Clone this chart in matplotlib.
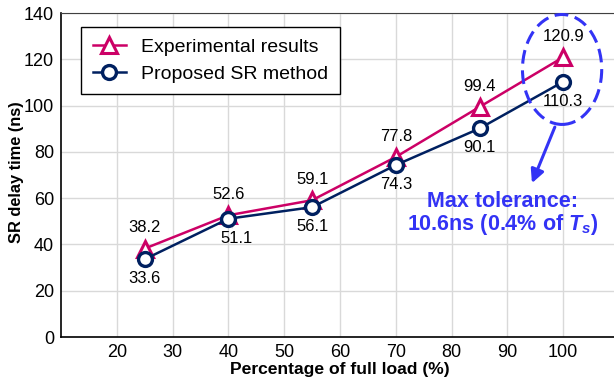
import matplotlib.pyplot as plt
from matplotlib.patches import Ellipse

plt.rcParams['font.family'] = ['Liberation Sans', 'DejaVu Sans']
plt.rcParams['mathtext.fontset'] = 'custom'
plt.rcParams['mathtext.it'] = 'Liberation Sans:italic:bold'
plt.rcParams['mathtext.rm'] = 'Liberation Sans:bold'

# load points (% of full load) and SR delay times (ns)
load = [25, 40, 55, 70, 85, 100]
experimental = [38.2, 52.6, 59.1, 77.8, 99.4, 120.9]
proposed = [33.6, 51.1, 56.1, 74.3, 90.1, 110.3]
x_ticks = [20, 30, 40, 50, 60, 70, 80, 90, 100]
y_ticks = [0, 20, 40, 60, 80, 100, 120, 140]

pink = '#CC0066'
navy = '#002060'
blue = '#3333F5'

fig = plt.figure(figsize=(6.14, 3.86), dpi=100)
ax = fig.add_axes([61 / 614, 49 / 386, 558 / 614, 324 / 386])

ax.plot(load, experimental, color=pink, lw=1.8, marker='^', ms=11,
        mfc='white', mec=pink, mew=2.2, label='Experimental results', zorder=3)
ax.plot(load, proposed, color=navy, lw=1.8, marker='o', ms=10,
        mfc='white', mec=navy, mew=2.4, label='Proposed SR method', zorder=4)

# value labels: experimental above, proposed below
for x, y in zip(load, experimental):
    kw = {}
    if x == 40:
        kw = dict(arrowprops=dict(arrowstyle='-', color='#c8c8c8', lw=0.8,
                                  shrinkA=0, shrinkB=0), zorder=2)
    ax.annotate(f'{y:.1f}', (x, y), xytext=(0, 15), textcoords='offset points',
                ha='center', va='center', fontsize=12, **kw)
for x, y in zip(load, proposed):
    kw = {}
    dx = 0
    if x == 40:
        dx = 6
        kw = dict(arrowprops=dict(arrowstyle='-', color='#c8c8c8', lw=0.8,
                                  shrinkA=0, shrinkB=0), zorder=2)
    ax.annotate(f'{y:.1f}', (x, y), xytext=(dx, -14), textcoords='offset points',
                ha='center', va='center', fontsize=12, **kw)

# tolerance callout around the full-load point
cy = (experimental[-1] + proposed[-1]) / 2
ax.add_patch(Ellipse((load[-1] - 0.2, cy), 14.2, 47.5, fill=False,
                     ec=blue, lw=2.2, ls=(0, (4.5, 2.2)), zorder=5))
ax.annotate('', xy=(94.4, 66.5), xytext=(98.5, 90.7),
            arrowprops=dict(arrowstyle='-|>', color=blue, lw=2.2,
                            mutation_scale=20, shrinkA=0, shrinkB=0))
tol = experimental[-1] - proposed[-1]
ax.text(89.2, 53.3, f'Max tolerance:\n{tol:.1f}ns (0.4% of $T_s$)', color=blue,
        fontsize=15.5, fontweight='bold', ha='center', va='center',
        multialignment='center', linespacing=1.0)

ax.set_xlim(10, 110)
ax.set_ylim(0, 140)
ax.set_xticks(x_ticks)
ax.set_yticks(y_ticks)
ax.tick_params(length=0, labelsize=13, pad=5)
ax.grid(True, color='#d9d9d9', lw=1)
ax.set_axisbelow(True)
for s in ['left', 'bottom']:
    ax.spines[s].set_color('black')
    ax.spines[s].set_linewidth(1.2)
ax.spines['top'].set_color('#404040')
ax.spines['right'].set_visible(False)

ax.set_xlabel('Percentage of full load (%)', fontsize=12.6, fontweight='bold', labelpad=1)
ax.set_ylabel('SR delay time (ns)', fontsize=11.8, fontweight='bold')
ax.yaxis.set_label_coords(-37 / 558, (337 - 172) / 324)

leg = ax.legend(loc='upper left', bbox_to_anchor=(0.036, 0.957), borderaxespad=0,
                fontsize=14, fancybox=False, framealpha=1, edgecolor='black',
                handlelength=1.7, labelspacing=0.45, borderpad=0.6)
leg.get_frame().set_linewidth(1.0)

fig.savefig('out.png', dpi=100)
